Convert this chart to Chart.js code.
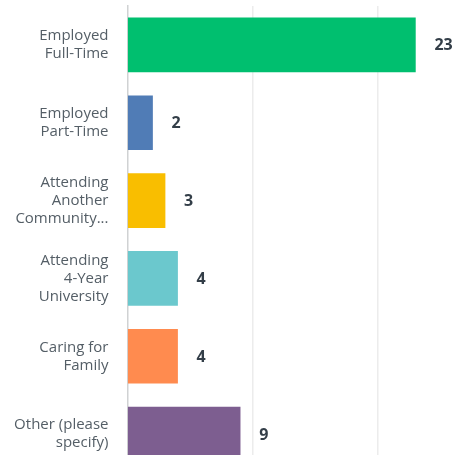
<!DOCTYPE html>
<html>
<head>
<meta charset="utf-8">
<script src="https://cdn.jsdelivr.net/npm/chart.js@4/dist/chart.umd.min.js"></script>
<style>
  html, body { margin: 0; padding: 0; background: #fff; overflow: hidden; }
  .graph { width: 503px; height: 473px; position: relative; }
</style>
</head>
<body>
<div class="graph"><canvas id="chart"></canvas></div>
<script>
// answer choices, one array of lines per label
const categories = [
  ['Employed', 'Full-Time'],
  ['Employed', 'Part-Time'],
  ['Attending', 'Another', 'Community...'],
  ['Attending', '4-Year', 'University'],
  ['Caring for', 'Family'],
  ['Other (please', 'specify)']
];
const responses = [23, 2, 3, 4, 4, 9];
const barColors = ['#00bf6f', '#507cb6', '#f9be00', '#6bc8cd', '#ff8b4f', '#7d5e90'];
const gridTicks = [0, 10, 20, 30];

// writes the count just past the end of each bar
const valueLabels = {
  id: 'valueLabels',
  afterDatasetsDraw(chart) {
    const ctx = chart.ctx;
    const meta = chart.getDatasetMeta(0);
    ctx.save();
    ctx.font = 'bold 16px "Open Sans"';
    ctx.fillStyle = '#333e48';
    ctx.textAlign = 'left';
    ctx.textBaseline = 'middle';
    meta.data.forEach((bar, i) => {
      ctx.fillText(String(responses[i]), bar.x + 19, bar.y + 1);
    });
    ctx.restore();
  }
};

const ctx = document.getElementById('chart').getContext('2d');
new Chart(ctx, {
  type: 'bar',
  data: {
    labels: categories,
    datasets: [{
      data: responses,
      backgroundColor: barColors,
      borderWidth: 0,
      barThickness: 54
    }]
  },
  options: {
    indexAxis: 'y',
    responsive: true,
    maintainAspectRatio: false,
    animation: false,
    layout: { padding: { top: 6, right: 0, bottom: 0, left: 0 } },
    plugins: {
      legend: { display: false },
      tooltip: { enabled: false }
    },
    scales: {
      x: {
        min: 0,
        max: 30,
        afterBuildTicks: scale => { scale.ticks = gridTicks.map(v => ({ value: v })); },
        afterFit: scale => {
          scale.height = 0;
          scale.paddingLeft = scale.paddingRight = 0;
        },
        ticks: { display: false },
        border: { display: false },
        grid: {
          drawTicks: false,
          lineWidth: 1.5,
          color: c => (c.tick && c.tick.value === 0) ? 'rgba(0,0,0,0)' : '#ececec'
        }
      },
      y: {
        afterFit: scale => {
          scale.width = 127.5;
          scale.paddingTop = scale.paddingBottom = 0;
        },
        grid: { display: false, drawTicks: false },
        border: { display: true, color: '#d0d2d3', width: 1.5 },
        ticks: {
          padding: 19,
          color: '#545e66',
          font: { family: '"Open Sans"', size: 15, lineHeight: 1.2 }
        }
      }
    }
  },
  plugins: [valueLabels]
});
</script>
</body>
</html>
